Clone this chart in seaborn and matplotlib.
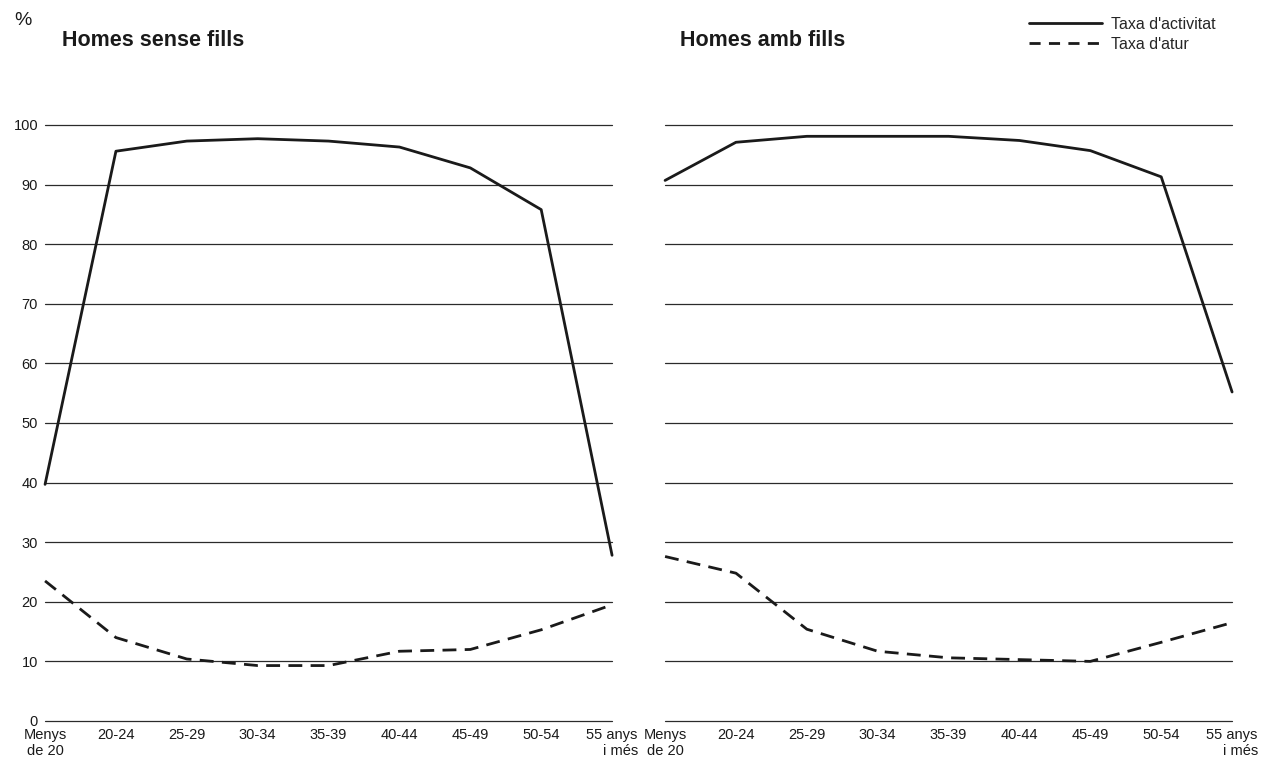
import pandas as pd
import seaborn as sns
import matplotlib.pyplot as plt
from matplotlib.lines import Line2D

# age groups (x axis)
ages = ['Menys\nde 20', '20-24', '25-29', '30-34', '35-39', '40-44', '45-49', '50-54', '55 anys\ni més']

# Homes sense fills
sense_activitat = [39.7, 95.6, 97.3, 97.7, 97.3, 96.3, 92.8, 85.8, 27.8]
sense_atur = [23.5, 14.0, 10.4, 9.3, 9.3, 11.7, 12.0, 15.3, 19.5]

# Homes amb fills
amb_activitat = [90.7, 97.1, 98.1, 98.1, 98.1, 97.4, 95.7, 91.3, 55.2]
amb_atur = [27.6, 24.8, 15.4, 11.7, 10.6, 10.3, 10.0, 13.2, 16.5]

titles = ['Homes sense fills', 'Homes amb fills']
yticks = [0, 10, 20, 30, 40, 50, 60, 70, 80, 90, 100]

sns.set_style("white")
plt.rcParams['font.family'] = ['Liberation Sans', 'DejaVu Sans']

fig = plt.figure(figsize=(12.62, 7.64), dpi=100)
ax1 = fig.add_axes([0.0357, 0.0563, 0.4493, 0.7801])
ax2 = fig.add_axes([0.5270, 0.0563, 0.4493, 0.7801])

panels = [(ax1, sense_activitat, sense_atur), (ax2, amb_activitat, amb_atur)]
for i, (ax, act, atur) in enumerate(panels):
    df = pd.DataFrame({'x': range(len(ages)), 'activitat': act, 'atur': atur})
    for y in yticks:
        ax.axhline(y, color='#2b2b2b', lw=0.9, zorder=1, clip_on=False)
    sns.lineplot(data=df, x='x', y='activitat', ax=ax, color='#1a1a1a', lw=2.0, zorder=3, clip_on=False)
    sns.lineplot(data=df, x='x', y='atur', ax=ax, color='#1a1a1a', lw=2.0, zorder=3, clip_on=False,
                 dashes=False, linestyle=(0, (5, 3)))
    ax.set_xlim(0, len(ages) - 1)
    ax.set_ylim(0, 100)
    ax.set_xticks(range(len(ages)))
    ax.set_xticklabels(ages, fontsize=10.5, color='#1a1a1a')
    ax.get_xticklabels()[-1].set_multialignment('right')
    ax.set_yticks(yticks)
    if i == 0:
        ax.set_yticklabels([str(v) for v in yticks], fontsize=10.5, color='#1a1a1a')
    else:
        ax.set_yticklabels([])
    ax.tick_params(length=0, pad=5)
    ax.set_xlabel('')
    ax.set_ylabel('')
    sns.despine(ax=ax, left=True, bottom=True)

fig.text(0.049, 0.947, titles[0], fontsize=15.5, fontweight='bold', va='center', color='#1a1a1a')
fig.text(0.539, 0.947, titles[1], fontsize=15.5, fontweight='bold', va='center', color='#1a1a1a')
fig.text(0.011, 0.973, '%', fontsize=14, va='center', color='#1a1a1a')

handles = [Line2D([], [], color='#1a1a1a', lw=2.0),
           Line2D([], [], color='#1a1a1a', lw=2.0, linestyle=(0, (4, 3)))]
fig.legend(handles, ["Taxa d'activitat", "Taxa d'atur"], loc='upper left',
           bbox_to_anchor=(0.815, 0.978), frameon=False, fontsize=11.5,
           handlelength=4.6, handletextpad=0.55, labelspacing=0.3,
           borderpad=0, borderaxespad=0)

fig.savefig('out.png', dpi=100)
